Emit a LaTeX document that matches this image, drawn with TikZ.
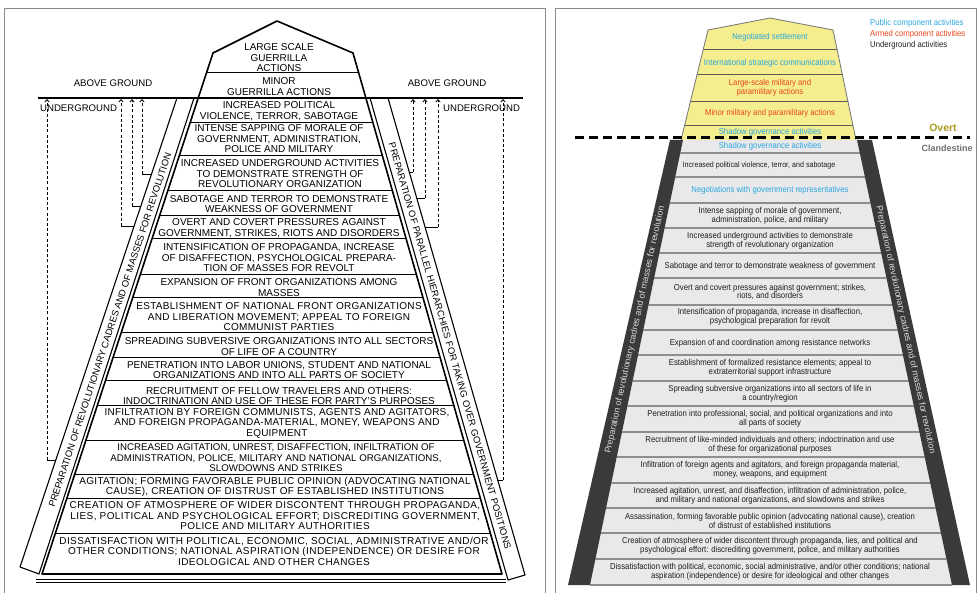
\documentclass[tikz,border=0pt]{standalone}
\usepackage{fontspec}
\setmainfont{Liberation Sans}
\newfontfamily\narrowfont[FakeStretch=0.9]{Liberation Sans}
\usetikzlibrary{arrows.meta}

\definecolor{framegray}{HTML}{8A8A8A}
\definecolor{pubblue}{HTML}{2BA6DE}
\definecolor{armred}{HTML}{E8461E}
\definecolor{undblack}{HTML}{1E1E1E}
\definecolor{roofyellow}{HTML}{F4EE8E}
\definecolor{rowgray}{HTML}{E9E9EB}
\definecolor{rowline}{HTML}{8E8E8E}
\definecolor{bandgray}{HTML}{3A3A3A}
\definecolor{overtcol}{HTML}{A89A1E}
\definecolor{clandcol}{HTML}{707070}

\tikzset{
  oldrow/.style={font=\fontsize{10}{10.5}\selectfont, align=center, inner sep=0pt, text=black},
  spaced/.style={font=\fontsize{10}{10.5}\selectfont\addfontfeatures{LetterSpace=#1}},
  oldlabel/.style={font=\fontsize{9.6}{10}\selectfont, inner sep=0pt},
  oldband/.style={font=\fontsize{9.4}{10}\selectfont\addfontfeatures{LetterSpace=#1}, inner sep=0pt},
  newrow/.style={font=\narrowfont\fontsize{8.6}{8.6}\selectfont, align=center, inner sep=0pt},
  smallrow/.style={font=\narrowfont\fontsize{7.9}{8.6}\selectfont, align=center, inner sep=0pt},
  newband/.style={font=\fontsize{8.9}{9}\selectfont, text=white!85!black, inner sep=0pt},
  pub/.style={text=pubblue}, arm/.style={text=armred}, und/.style={text=undblack},
  riser/.style={dashed, dash pattern=on 3pt off 2.2pt, line width=0.8pt,
                -{Straight Barb[length=2.6pt,width=4.5pt]}},
  foot/.style={line width=0.8pt},
}

\begin{document}
\begin{tikzpicture}[x=1pt, y=-1pt, line cap=butt]
\useasboundingbox (0,0) rectangle (980,593);

% ---------------- panel frames ----------------
\draw[framegray, line width=1pt] (4,9) rectangle (545,605);
\draw[framegray, line width=1pt] (555,9) rectangle (976,605);

% ================= left panel: the original iceberg =================
% side bands
\draw[line width=1.1pt, line join=round] (177,98) -- (194,98) -- (39,574) -- (20,567) -- cycle;
\draw[line width=1.1pt, line join=round] (370,98) -- (388,98) -- (525,575) -- (508,580) -- cycle;

% row separators inside the pyramid
\begin{scope}
  \clip (277,21) -- (353,53) -- (502,574) -- (42,574) -- (213,53) -- cycle;
  \foreach \yy in {73,123,156,191,216,239,275,298,333,358,381,406,440,474,498,533}
    \draw[line width=1pt] (0,\yy) -- (560,\yy);
\end{scope}
\draw[line width=1.6pt, line join=round] (277,21) -- (353,53) -- (502,574) -- (42,574) -- (213,53) -- cycle;

% base
\draw[line width=1pt] (36,579) -- (506,579);
\draw[line width=1pt] (36,582.5) -- (506,582.5);

% ground line
\draw[line width=1.5pt] (38,98) -- (523,98);

\node[oldlabel] (agl) at (113,83) {ABOVE GROUND};
\node[oldlabel] (agr) at (447,83) {ABOVE GROUND};
\node[oldlabel, anchor=west] (ugl) at (40,108) {UNDERGROUND};
\node[oldlabel, anchor=west] (ugr) at (443,108) {UNDERGROUND};

% dashed risers from the bands up to the surface
\coordinate (gl1) at (47,99);   \coordinate (cl1) at (47,460);  \coordinate (bl1) at (56,460);
\coordinate (gl2) at (121,99);  \coordinate (cl2) at (121,226); \coordinate (bl2) at (134,226);
\coordinate (gl3) at (132,99);  \coordinate (cl3) at (132,206); \coordinate (bl3) at (141,206);
\coordinate (gl4) at (142,99);  \coordinate (cl4) at (142,174); \coordinate (bl4) at (152,174);
\coordinate (gr1) at (413,99);  \coordinate (cr1) at (413,172); \coordinate (br1) at (409,172);
\coordinate (gr2) at (425,99);  \coordinate (cr2) at (425,198); \coordinate (br2) at (417,198);
\coordinate (gr3) at (438,99);  \coordinate (cr3) at (438,227); \coordinate (br3) at (425,227);
\coordinate (gr4) at (503,99);  \coordinate (cr4) at (503,480); \coordinate (br4) at (497,480);
\foreach \s in {l1,l2,l3,l4,r1,r2,r3,r4}{
  \draw[foot] (b\s) -- (c\s);
  \draw[riser] (c\s) -- (g\s);
}

% band captions
\node[oldband=0, rotate=71.7] (bandL) at (110,330)
  {PREPARATION OF REVOLUTIONARY CADRES AND OF MASSES FOR REVOLUTION};
\node[oldband=2, rotate=-74] (bandR) at (450,346)
  {PREPARATION OF PARALLEL HIERARCHIES FOR TAKING OVER GOVERNMENT POSITIONS};

% stages
\node[oldrow] (o1)  at (279,58)  {LARGE SCALE\\GUERRILLA\\ACTIONS};
\node[oldrow] (o2)  at (279,86.5) {MINOR\\GUERRILLA ACTIONS};
\node[oldrow] (o3)  at (279,111) {INCREASED POLITICAL\\VIOLENCE, TERROR, SABOTAGE};
\node[oldrow] (o4)  at (279,139) {INTENSE SAPPING OF MORALE OF\\GOVERNMENT, ADMINISTRATION,\\POLICE AND MILITARY};
\node[oldrow] (o5)  at (280,174) {INCREASED UNDERGROUND ACTIVITIES\\TO DEMONSTRATE STRENGTH OF\\REVOLUTIONARY ORGANIZATION};
\node[oldrow] (o6)  at (279,204) {SABOTAGE AND TERROR TO DEMONSTRATE\\WEAKNESS OF GOVERNMENT};
\node[oldrow] (o7)  at (279,228) {OVERT AND COVERT PRESSURES AGAINST\\GOVERNMENT, STRIKES, RIOTS AND DISORDERS};
\node[oldrow] (o8)  at (279,258) {INTENSIFICATION OF PROPAGANDA, INCREASE\\OF DISAFFECTION, PSYCHOLOGICAL PREPARA-\\TION OF MASSES FOR REVOLT};
\node[oldrow] (o9)  at (279,287.5) {EXPANSION OF FRONT ORGANIZATIONS AMONG\\MASSES};
\node[oldrow, spaced=3] (o10) at (279,317) {ESTABLISHMENT OF NATIONAL FRONT ORGANIZATIONS\\AND LIBERATION MOVEMENT; APPEAL TO FOREIGN\\COMMUNIST PARTIES};
\node[oldrow] (o11) at (279,346.5) {SPREADING SUBVERSIVE ORGANIZATIONS INTO ALL SECTORS\\OF LIFE OF A COUNTRY};
\node[oldrow] (o12) at (279,370) {PENETRATION INTO LABOR UNIONS, STUDENT AND NATIONAL\\ORGANIZATIONS AND INTO ALL PARTS OF SOCIETY};
\node[oldrow] (o13) at (279,396) {RECRUITMENT OF FELLOW TRAVELERS AND OTHERS:\\INDOCTRINATION AND USE OF THESE FOR PARTY'S PURPOSES};
\node[oldrow, spaced=2] (o14) at (277,423) {INFILTRATION BY FOREIGN COMMUNISTS, AGENTS AND AGITATORS,\\AND FOREIGN PROPAGANDA-MATERIAL, MONEY, WEAPONS AND\\EQUIPMENT};
\node[oldrow, font=\fontsize{9.7}{10.5}\selectfont] (o15) at (276,458) {INCREASED AGITATION, UNREST, DISAFFECTION, INFILTRATION OF\\ADMINISTRATION, POLICE, MILITARY AND NATIONAL ORGANIZATIONS,\\SLOWDOWNS AND STRIKES};
\node[oldrow, spaced=3] (o16) at (275,487) {AGITATION; FORMING FAVORABLE PUBLIC OPINION (ADVOCATING NATIONAL\\CAUSE), CREATION OF DISTRUST OF ESTABLISHED INSTITUTIONS};
\node[oldrow, spaced=4] (o17) at (275,516) {CREATION OF ATMOSPHERE OF WIDER DISCONTENT THROUGH PROPAGANDA,\\LIES, POLITICAL AND PSYCHOLOGICAL EFFORT; DISCREDITING GOVERNMENT,\\POLICE AND MILITARY AUTHORITIES};
\node[oldrow, spaced=4] (o18) at (274,551) {DISSATISFACTION WITH POLITICAL, ECONOMIC, SOCIAL, ADMINISTRATIVE AND/OR\\OTHER CONDITIONS; NATIONAL ASPIRATION (INDEPENDENCE) OR DESIRE FOR\\IDEOLOGICAL AND OTHER CHANGES};

% ================= right panel: the revised pyramid =================
% overt (yellow) part
\fill[roofyellow] (770,18) -- (833,30) -- (856,140) -- (681,140) -- (708,30) -- cycle;
\begin{scope}
  \clip (770,18) -- (833,30) -- (856,140) -- (681,140) -- (708,30) -- cycle;
  \foreach \yy in {50,75,102,126}
    \draw[black!65, line width=1pt] (600,\yy) -- (950,\yy);
\end{scope}
\draw[black!55, line width=0.8pt, line join=round] (681,140) -- (708,30) -- (770,18) -- (833,30) -- (856,140);

% clandestine (gray) part
\fill[rowgray] (683,140) -- (857,140) -- (952,585) -- (590,585) -- cycle;
\begin{scope}
  \clip (683,140) -- (857,140) -- (952,585) -- (590,585) -- cycle;
  \foreach \yy in {153,177,203,228,253,278,305,330,355,381,406,432,457,483,508,533,559}
    \draw[rowline, line width=1.4pt] (560,\yy) -- (980,\yy);
\end{scope}
\draw[rowline, line width=1.4pt] (590,585) -- (952,585);
\fill[bandgray] (670,140) -- (683,140) -- (590,585) -- (568,585) -- cycle;
\fill[bandgray] (857,140) -- (872,140) -- (970,585) -- (952,585) -- cycle;

\node[newband, rotate=77.7] (nbandL) at (635,330) {Preparation of revolutionary cadres and of masses for revolution};
\node[newband, rotate=-77.7] (nbandR) at (905.5,330) {Preparation of revolutionary cadres and of masses for revolution};

% overt / clandestine divide
\draw[black, line width=3pt, dash pattern=on 9pt off 5pt] (575,138) -- (970,138);
\node[font=\bfseries\fontsize{10.5}{11}\selectfont, text=overtcol, inner sep=0pt] (overt) at (943,128) {Overt};
\node[font=\bfseries\fontsize{9}{10}\selectfont, text=clandcol, inner sep=0pt] (cland) at (947,148) {Clandestine};

% legend
\node[newrow, pub, anchor=west] (lg1) at (870,23) {Public component activities};
\node[newrow, arm, anchor=west] (lg2) at (870,34) {Armed component activities};
\node[newrow, und, anchor=west] (lg3) at (870,45) {Underground activities};

% stages above the divide
\node[newrow, pub] (n1) at (770,37)  {Negotiated settlement};
\node[newrow, pub] (n2) at (770,63)  {International strategic communications};
\node[newrow, arm] (n3) at (770,88)  {Large-scale military and\\paramilitary actions};
\node[newrow, arm] (n4) at (770,113) {Minor military and paramilitary actions};
\node[newrow, pub] (n5) at (770,132) {Shadow governance activities};

% stages below the divide
\node[newrow, pub] (m1)  at (770,146) {Shadow governance activities};
\node[smallrow, und] (m2)  at (759,165) {Increased political violence, terror, and sabotage};
\node[newrow, pub] (m3)  at (770,190) {Negotiations with government representatives};
\node[newrow, und] (m4)  at (770,216) {Intense sapping of morale of government,\\administration, police, and military};
\node[newrow, und] (m5)  at (770,241) {Increased underground activities to demonstrate\\strength of revolutionary organization};
\node[newrow, und] (m6)  at (770,266) {Sabotage and terror to demonstrate weakness of government};
\node[newrow, und] (m7)  at (770,292) {Overt and covert pressures against government; strikes,\\riots, and disorders};
\node[newrow, und] (m8)  at (770,317) {Intensification of propaganda, increase in disaffection,\\psychological preparation for revolt};
\node[newrow, und] (m9)  at (770,343) {Expansion of and coordination among resistance networks};
\node[newrow, und] (m10) at (770,368) {Establishment of formalized resistance elements; appeal to\\extraterritorial support infrastructure};
\node[newrow, und] (m11) at (770,393.5) {Spreading subversive organizations into all sectors of life in\\a country/region};
\node[newrow, und] (m12) at (770,419) {Penetration into professional, social, and political organizations and into\\all parts of society};
\node[newrow, und] (m13) at (770,445) {Recruitment of like-minded individuals and others; indoctrination and use\\of these for organizational purposes};
\node[newrow, und] (m14) at (770,470) {Infiltration of foreign agents and agitators, and foreign propaganda material,\\money, weapons, and equipment};
\node[newrow, und] (m15) at (770,496) {Increased agitation, unrest, and disaffection, infiltration of administration, police,\\and military and national organizations, and slowdowns and strikes};
\node[newrow, und] (m16) at (770,521) {Assassination, forming favorable public opinion (advocating national cause), creation\\of distrust of established institutions};
\node[newrow, und] (m17) at (770,546) {Creation of atmosphere of wider discontent through propaganda, lies, and political and\\psychological effort: discrediting government, police, and military authorities};
\node[newrow, und] (m18) at (770,572) {Dissatisfaction with political, economic, social administrative, and/or other conditions; national\\aspiration (independence) or desire for ideological and other changes};

\end{tikzpicture}
\end{document}
